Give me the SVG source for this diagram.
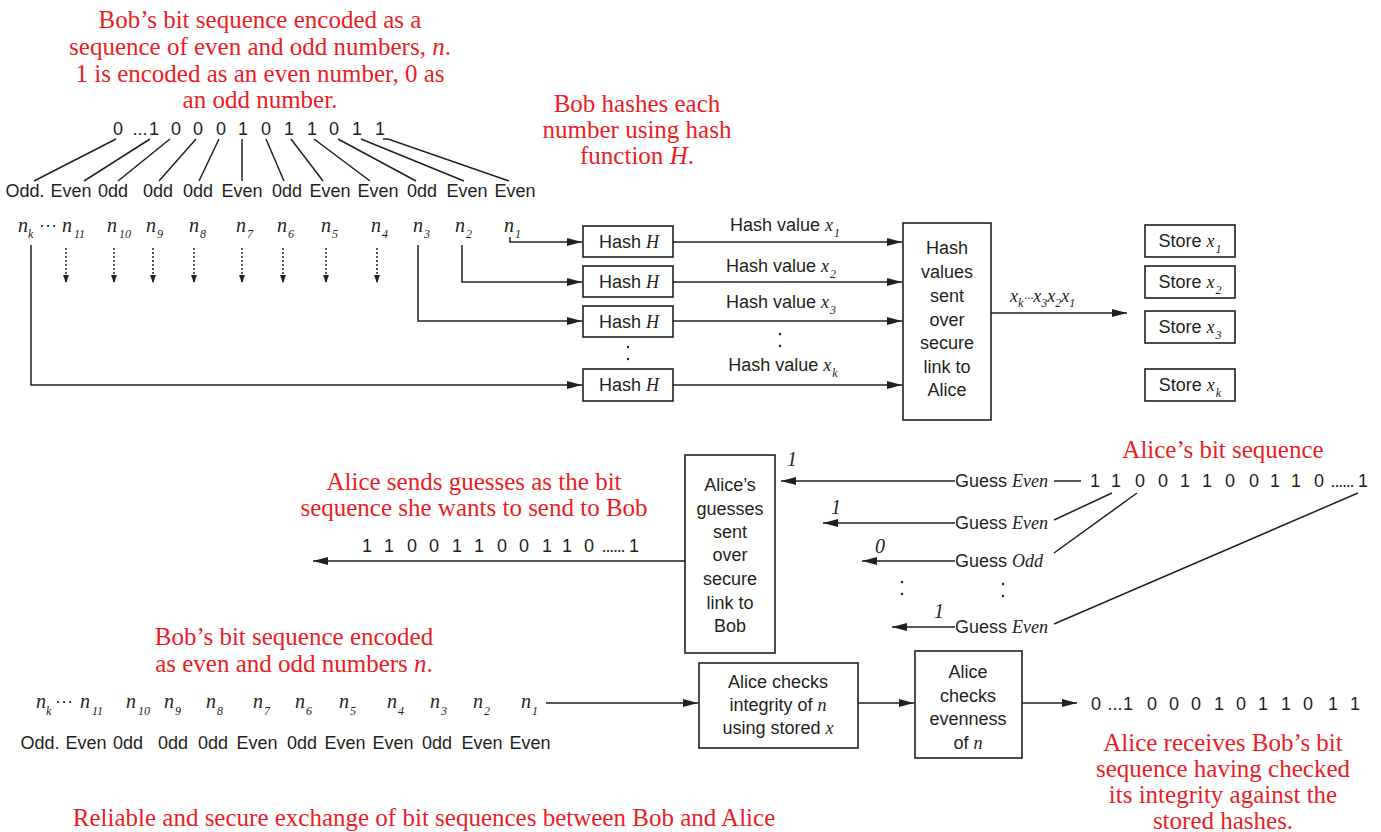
<svg xmlns="http://www.w3.org/2000/svg" width="1381" height="832" viewBox="0 0 1381 832">
<style>
.red{font-family:"Liberation Serif",serif;font-size:25px;fill:#ed1c24;text-anchor:middle}
.sans{font-family:"Liberation Sans",Arial,sans-serif;font-size:18px;fill:#231f20}
.mid{text-anchor:middle}
.v{font-family:"Liberation Serif",serif;font-style:italic;font-size:18px}
.s{font-family:"Liberation Serif",serif;font-style:italic;font-size:12px}
.ni{font-family:"Liberation Serif",serif;font-style:italic;font-size:20px;fill:#231f20}
.box{fill:#fff;stroke:#231f20;stroke-width:1.6}
.ln{stroke:#231f20;stroke-width:1.5;fill:none}
.dot{stroke:#231f20;stroke-width:1.5;fill:none;stroke-dasharray:2 2}
.pt{fill:#231f20}
</style>
<defs>
<marker id="ah" markerWidth="16" markerHeight="10" refX="15" refY="5" orient="auto" markerUnits="userSpaceOnUse"><path d="M0,1 L15,5 L0,9 Z" fill="#231f20"/></marker>
<marker id="sh" markerWidth="8" markerHeight="8" refX="8" refY="3" orient="auto" markerUnits="userSpaceOnUse"><path d="M0,0 L8,3 L0,6 Z" fill="#231f20"/></marker>
</defs>

<!-- Annotations -->
<g id="note-bob-encoding">
<text class="red" x="260" y="28">Bob’s bit sequence encoded as a</text>
<text class="red" x="260" y="55">sequence of even and odd numbers, <tspan font-style="italic">n</tspan>.</text>
<text class="red" x="260" y="82">1 is encoded as an even number, 0 as</text>
<text class="red" x="260" y="108">an odd number.</text>
</g>
<g id="note-bob-hashes">
<text class="red" x="637" y="112">Bob hashes each</text>
<text class="red" x="637" y="138">number using hash</text>
<text class="red" x="637" y="164">function <tspan font-style="italic">H</tspan>.</text>
</g>
<g id="note-alice-bits"><text class="red" x="1223" y="458">Alice’s bit sequence</text></g>
<g id="note-alice-sends">
<text class="red" x="474" y="490">Alice sends guesses as the bit</text>
<text class="red" x="474" y="516">sequence she wants to send to Bob</text>
</g>
<g id="note-bob-encoded2">
<text class="red" x="294" y="645">Bob’s bit sequence encoded</text>
<text class="red" x="294" y="672">as even and odd numbers <tspan font-style="italic">n</tspan>.</text>
</g>
<g id="note-alice-receives">
<text class="red" x="1223" y="751">Alice receives Bob’s bit</text>
<text class="red" x="1223" y="777">sequence having checked</text>
<text class="red" x="1223" y="803">its integrity against the</text>
<text class="red" x="1223" y="829">stored hashes.</text>
</g>
<g id="caption"><text class="red" x="424" y="826">Reliable and secure exchange of bit sequences between Bob and Alice</text></g>

<!-- Bob's bit sequence (top) -->
<g id="bob-bits">
<text class="sans mid" x="118" y="135">0</text><text class="sans mid" x="140" y="135">...</text><text class="sans mid" x="154" y="135">1</text>
<text class="sans mid" x="176" y="135">0</text><text class="sans mid" x="198" y="135">0</text><text class="sans mid" x="221" y="135">0</text>
<text class="sans mid" x="243" y="135">1</text><text class="sans mid" x="266" y="135">0</text><text class="sans mid" x="289" y="135">1</text>
<text class="sans mid" x="312" y="135">1</text><text class="sans mid" x="334" y="135">0</text><text class="sans mid" x="357" y="135">1</text>
<text class="sans mid" x="380" y="135">1</text>
</g>
<g id="bob-parity">
<text class="sans mid" x="25" y="197">Odd.</text><text class="sans mid" x="71" y="197">Even</text><text class="sans mid" x="113" y="197">0dd</text>
<text class="sans mid" x="158" y="197">0dd</text><text class="sans mid" x="198" y="197">0dd</text><text class="sans mid" x="242" y="197">Even</text>
<text class="sans mid" x="287" y="197">0dd</text><text class="sans mid" x="330" y="197">Even</text><text class="sans mid" x="378" y="197">Even</text>
<text class="sans mid" x="422" y="197">0dd</text><text class="sans mid" x="467" y="197">Even</text><text class="sans mid" x="515" y="197">Even</text>
</g>
<g id="bob-numbers">
<text class="ni" x="18" y="232">n<tspan class="s" dy="6">k</tspan></text>
<text class="sans" x="39" y="231">···</text>
<text class="ni" x="62" y="232">n<tspan class="s" dx="2" dy="6">11</tspan></text>
<text class="ni" x="107" y="232">n<tspan class="s" dx="2" dy="6">10</tspan></text>
<text class="ni" x="146" y="232">n<tspan class="s" dx="1" dy="6">9</tspan></text>
<text class="ni" x="189" y="232">n<tspan class="s" dx="1" dy="6">8</tspan></text>
<text class="ni" x="236" y="232">n<tspan class="s" dx="1" dy="6">7</tspan></text>
<text class="ni" x="277" y="232">n<tspan class="s" dx="1" dy="6">6</tspan></text>
<text class="ni" x="321" y="232">n<tspan class="s" dx="1" dy="6">5</tspan></text>
<text class="ni" x="371" y="232">n<tspan class="s" dx="1" dy="6">4</tspan></text>
<text class="ni" x="413" y="232">n<tspan class="s" dx="1" dy="6">3</tspan></text>
<text class="ni" x="455" y="232">n<tspan class="s" dx="1" dy="6">2</tspan></text>
<text class="ni" x="504" y="232">n<tspan class="s" dx="1" dy="6">1</tspan></text>
</g>

<!-- Hash boxes -->
<g id="hash1"><rect class="box" x="583" y="226" width="90" height="31"/><text class="sans mid" x="629" y="248">Hash <tspan class="v">H</tspan></text></g>
<g id="hash2"><rect class="box" x="583" y="266" width="90" height="31"/><text class="sans mid" x="629" y="288">Hash <tspan class="v">H</tspan></text></g>
<g id="hash3"><rect class="box" x="583" y="306" width="90" height="31"/><text class="sans mid" x="629" y="328">Hash <tspan class="v">H</tspan></text></g>
<g id="hashk"><rect class="box" x="583" y="369" width="90" height="32"/><text class="sans mid" x="629" y="391">Hash <tspan class="v">H</tspan></text></g>

<g id="hash-send">
<rect class="box" x="903" y="223" width="88" height="197"/>
<text class="sans mid" x="947" y="254">Hash</text>
<text class="sans mid" x="947" y="278">values</text>
<text class="sans mid" x="947" y="302">sent</text>
<text class="sans mid" x="947" y="326">over</text>
<text class="sans mid" x="947" y="349">secure</text>
<text class="sans mid" x="947" y="373">link to</text>
<text class="sans mid" x="947" y="396">Alice</text>
</g>

<g id="store1"><rect class="box" x="1145" y="225" width="90" height="32"/><text class="sans mid" x="1190" y="247">Store <tspan class="v">x</tspan><tspan class="s" dx="1" dy="6">1</tspan></text></g>
<g id="store2"><rect class="box" x="1145" y="266" width="90" height="32"/><text class="sans mid" x="1190" y="288">Store <tspan class="v">x</tspan><tspan class="s" dx="1" dy="6">2</tspan></text></g>
<g id="store3"><rect class="box" x="1145" y="311" width="90" height="32"/><text class="sans mid" x="1190" y="333">Store <tspan class="v">x</tspan><tspan class="s" dx="1" dy="6">3</tspan></text></g>
<g id="storek"><rect class="box" x="1145" y="369" width="90" height="32"/><text class="sans mid" x="1190" y="391">Store <tspan class="v">x</tspan><tspan class="s" dx="1" dy="6">k</tspan></text></g>

<!-- Alice guesses -->
<g id="alice-guesses">
<rect class="box" x="685" y="455" width="90" height="198"/>
<text class="sans mid" x="730" y="491">Alice’s</text>
<text class="sans mid" x="730" y="515">guesses</text>
<text class="sans mid" x="730" y="538">sent</text>
<text class="sans mid" x="730" y="561">over</text>
<text class="sans mid" x="730" y="585">secure</text>
<text class="sans mid" x="730" y="609">link to</text>
<text class="sans mid" x="730" y="632">Bob</text>
</g>
<g id="guess-labels">
<text class="sans" x="955" y="487">Guess <tspan class="v">Even</tspan></text>
<text class="sans" x="955" y="529">Guess <tspan class="v">Even</tspan></text>
<text class="sans" x="955" y="567">Guess <tspan class="v">Odd</tspan></text>
<text class="sans" x="955" y="633">Guess <tspan class="v">Even</tspan></text>
<text class="ni" x="787" y="466" font-size="17">1</text>
<text class="ni" x="831" y="514" font-size="17">1</text>
<text class="ni" x="875" y="553" font-size="17">0</text>
<text class="ni" x="934" y="618" font-size="17">1</text>
</g>
<g id="alice-bits">
<text class="sans mid" x="1095" y="487">1</text><text class="sans mid" x="1116" y="487">1</text><text class="sans mid" x="1140" y="487">0</text>
<text class="sans mid" x="1163" y="487">0</text><text class="sans mid" x="1185" y="487">1</text><text class="sans mid" x="1207" y="487">1</text>
<text class="sans mid" x="1230" y="487">0</text><text class="sans mid" x="1254" y="487">0</text><text class="sans mid" x="1275" y="487">1</text>
<text class="sans mid" x="1296" y="487">1</text><text class="sans mid" x="1319" y="487">0</text>
<text class="sans mid" x="1342" y="487" letter-spacing="-1.2">......</text><text class="sans mid" x="1363" y="487">1</text>
</g>
<g id="guess-bits">
<text class="sans mid" x="367" y="552">1</text><text class="sans mid" x="389" y="552">1</text><text class="sans mid" x="412" y="552">0</text>
<text class="sans mid" x="434" y="552">0</text><text class="sans mid" x="457" y="552">1</text><text class="sans mid" x="479" y="552">1</text>
<text class="sans mid" x="502" y="552">0</text><text class="sans mid" x="524" y="552">0</text><text class="sans mid" x="547" y="552">1</text>
<text class="sans mid" x="567" y="552">1</text><text class="sans mid" x="589" y="552">0</text>
<text class="sans mid" x="613" y="552" letter-spacing="-1.2">......</text><text class="sans mid" x="634" y="552">1</text>
</g>

<!-- Bottom section -->
<g id="bob-numbers2">
<text class="ni" x="36" y="708">n<tspan class="s" dy="7">k</tspan></text>
<text class="sans" x="55" y="707">···</text>
<text class="ni" x="80" y="708">n<tspan class="s" dx="2" dy="7">11</tspan></text>
<text class="ni" x="126" y="708">n<tspan class="s" dx="2" dy="7">10</tspan></text>
<text class="ni" x="164" y="708">n<tspan class="s" dx="1" dy="7">9</tspan></text>
<text class="ni" x="206" y="708">n<tspan class="s" dx="1" dy="7">8</tspan></text>
<text class="ni" x="253" y="708">n<tspan class="s" dx="1" dy="7">7</tspan></text>
<text class="ni" x="295" y="708">n<tspan class="s" dx="1" dy="7">6</tspan></text>
<text class="ni" x="339" y="708">n<tspan class="s" dx="1" dy="7">5</tspan></text>
<text class="ni" x="387" y="708">n<tspan class="s" dx="1" dy="7">4</tspan></text>
<text class="ni" x="430" y="708">n<tspan class="s" dx="1" dy="7">3</tspan></text>
<text class="ni" x="473" y="708">n<tspan class="s" dx="1" dy="7">2</tspan></text>
<text class="ni" x="521" y="708">n<tspan class="s" dx="1" dy="7">1</tspan></text>
</g>
<g id="bob-parity2">
<text class="sans mid" x="40" y="749">Odd.</text><text class="sans mid" x="86" y="749">Even</text><text class="sans mid" x="128" y="749">0dd</text>
<text class="sans mid" x="173" y="749">0dd</text><text class="sans mid" x="213" y="749">0dd</text><text class="sans mid" x="257" y="749">Even</text>
<text class="sans mid" x="302" y="749">0dd</text><text class="sans mid" x="345" y="749">Even</text><text class="sans mid" x="393" y="749">Even</text>
<text class="sans mid" x="437" y="749">0dd</text><text class="sans mid" x="482" y="749">Even</text><text class="sans mid" x="530" y="749">Even</text>
</g>
<g id="check-integrity">
<rect class="box" x="699" y="663" width="159" height="85"/>
<text class="sans mid" x="778" y="688">Alice checks</text>
<text class="sans mid" x="778" y="711">integrity of <tspan class="v">n</tspan></text>
<text class="sans mid" x="778" y="734">using stored <tspan class="v">x</tspan></text>
</g>
<g id="check-evenness">
<rect class="box" x="915" y="651" width="107" height="107"/>
<text class="sans mid" x="968" y="678">Alice</text>
<text class="sans mid" x="968" y="702">checks</text>
<text class="sans mid" x="968" y="725">evenness</text>
<text class="sans mid" x="968" y="749">of <tspan class="v">n</tspan></text>
</g>
<g id="received-bits">
<text class="sans mid" x="1096" y="710">0</text><text class="sans mid" x="1115" y="710">...</text><text class="sans mid" x="1128" y="710">1</text>
<text class="sans mid" x="1152" y="710">0</text><text class="sans mid" x="1174" y="710">0</text><text class="sans mid" x="1196" y="710">0</text>
<text class="sans mid" x="1219" y="710">1</text><text class="sans mid" x="1241" y="710">0</text><text class="sans mid" x="1263" y="710">1</text>
<text class="sans mid" x="1286" y="710">1</text><text class="sans mid" x="1308" y="710">0</text><text class="sans mid" x="1333" y="710">1</text>
<text class="sans mid" x="1355" y="710">1</text>
</g>

<!-- Connectors -->
<g id="connectors">
<line class="ln" x1="116" y1="139" x2="34" y2="181"/>
<line class="ln" x1="150" y1="139" x2="84" y2="181"/>
<line class="ln" x1="170" y1="139" x2="118" y2="181"/>
<line class="ln" x1="196" y1="139" x2="159" y2="181"/>
<line class="ln" x1="219" y1="139" x2="199" y2="181"/>
<line class="ln" x1="242" y1="139" x2="242" y2="181"/>
<line class="ln" x1="266" y1="139" x2="284" y2="181"/>
<line class="ln" x1="291" y1="139" x2="323" y2="181"/>
<line class="ln" x1="314" y1="139" x2="370" y2="181"/>
<line class="ln" x1="338" y1="139" x2="416" y2="181"/>
<line class="ln" x1="361" y1="139" x2="464" y2="181"/>
<path class="ln" d="M383,139 H388 L509,181"/>
<line class="dot" x1="66" y1="248" x2="66" y2="283" marker-end="url(#sh)"/>
<line class="dot" x1="114" y1="248" x2="114" y2="283" marker-end="url(#sh)"/>
<line class="dot" x1="153" y1="248" x2="153" y2="283" marker-end="url(#sh)"/>
<line class="dot" x1="194" y1="248" x2="194" y2="283" marker-end="url(#sh)"/>
<line class="dot" x1="242" y1="248" x2="242" y2="283" marker-end="url(#sh)"/>
<line class="dot" x1="283" y1="248" x2="283" y2="283" marker-end="url(#sh)"/>
<line class="dot" x1="326" y1="248" x2="326" y2="283" marker-end="url(#sh)"/>
<line class="dot" x1="377" y1="248" x2="377" y2="283" marker-end="url(#sh)"/>
<path class="ln" d="M510,237 V242 H582" marker-end="url(#ah)"/>
<path class="ln" d="M462,245 V282 H582" marker-end="url(#ah)"/>
<path class="ln" d="M418,245 V321 H582" marker-end="url(#ah)"/>
<path class="ln" d="M31,245 V385 H582" marker-end="url(#ah)"/>
<circle class="pt" cx="628" cy="347" r="1.2"/><circle class="pt" cx="628" cy="359" r="1.2"/>
<line class="ln" x1="673" y1="242" x2="902" y2="242" marker-end="url(#ah)"/>
<line class="ln" x1="673" y1="282" x2="902" y2="282" marker-end="url(#ah)"/>
<line class="ln" x1="673" y1="321" x2="902" y2="321" marker-end="url(#ah)"/>
<line class="ln" x1="673" y1="385" x2="902" y2="385" marker-end="url(#ah)"/>
<text class="sans mid" x="785" y="231">Hash value <tspan class="v">x</tspan><tspan class="s" dx="1" dy="6">1</tspan></text>
<text class="sans mid" x="781" y="272">Hash value <tspan class="v">x</tspan><tspan class="s" dx="1" dy="6">2</tspan></text>
<text class="sans mid" x="781" y="308">Hash value <tspan class="v">x</tspan><tspan class="s" dx="1" dy="6">3</tspan></text>
<text class="sans mid" x="783" y="371">Hash value <tspan class="v">x</tspan><tspan class="s" dx="1" dy="6">k</tspan></text>
<circle class="pt" cx="780" cy="334" r="1.2"/><circle class="pt" cx="780" cy="346" r="1.2"/>
<line class="ln" x1="991" y1="313" x2="1127" y2="313" marker-end="url(#ah)"/>
<text x="1010" y="302" fill="#231f20"><tspan class="v">x</tspan><tspan class="s" dy="5">k</tspan><tspan class="s" dy="-5" dx="1">···</tspan><tspan class="v">x</tspan><tspan class="s" dy="5">3</tspan><tspan class="v" dy="-5">x</tspan><tspan class="s" dy="5">2</tspan><tspan class="v" dy="-5">x</tspan><tspan class="s" dy="5">1</tspan></text>
<line class="ln" x1="955" y1="481" x2="781" y2="481" marker-end="url(#ah)"/>
<line class="ln" x1="955" y1="523" x2="823" y2="523" marker-end="url(#ah)"/>
<line class="ln" x1="955" y1="561" x2="862" y2="561" marker-end="url(#ah)"/>
<line class="ln" x1="955" y1="627" x2="892" y2="627" marker-end="url(#ah)"/>
<line class="ln" x1="1054" y1="481" x2="1081" y2="481"/>
<line class="ln" x1="1054" y1="520" x2="1112" y2="493"/>
<line class="ln" x1="1054" y1="553" x2="1137" y2="493"/>
<line class="ln" x1="1054" y1="624" x2="1358" y2="493"/>
<circle class="pt" cx="902" cy="582" r="1.2"/><circle class="pt" cx="902" cy="594" r="1.2"/>
<circle class="pt" cx="1003" cy="584" r="1.2"/><circle class="pt" cx="1003" cy="596" r="1.2"/>
<line class="ln" x1="685" y1="561" x2="313" y2="561" marker-end="url(#ah)"/>
<line class="ln" x1="546" y1="703" x2="698" y2="703" marker-end="url(#ah)"/>
<line class="ln" x1="858" y1="703" x2="914" y2="703" marker-end="url(#ah)"/>
<line class="ln" x1="1022" y1="703" x2="1077" y2="703" marker-end="url(#ah)"/>
</g>
</svg>
